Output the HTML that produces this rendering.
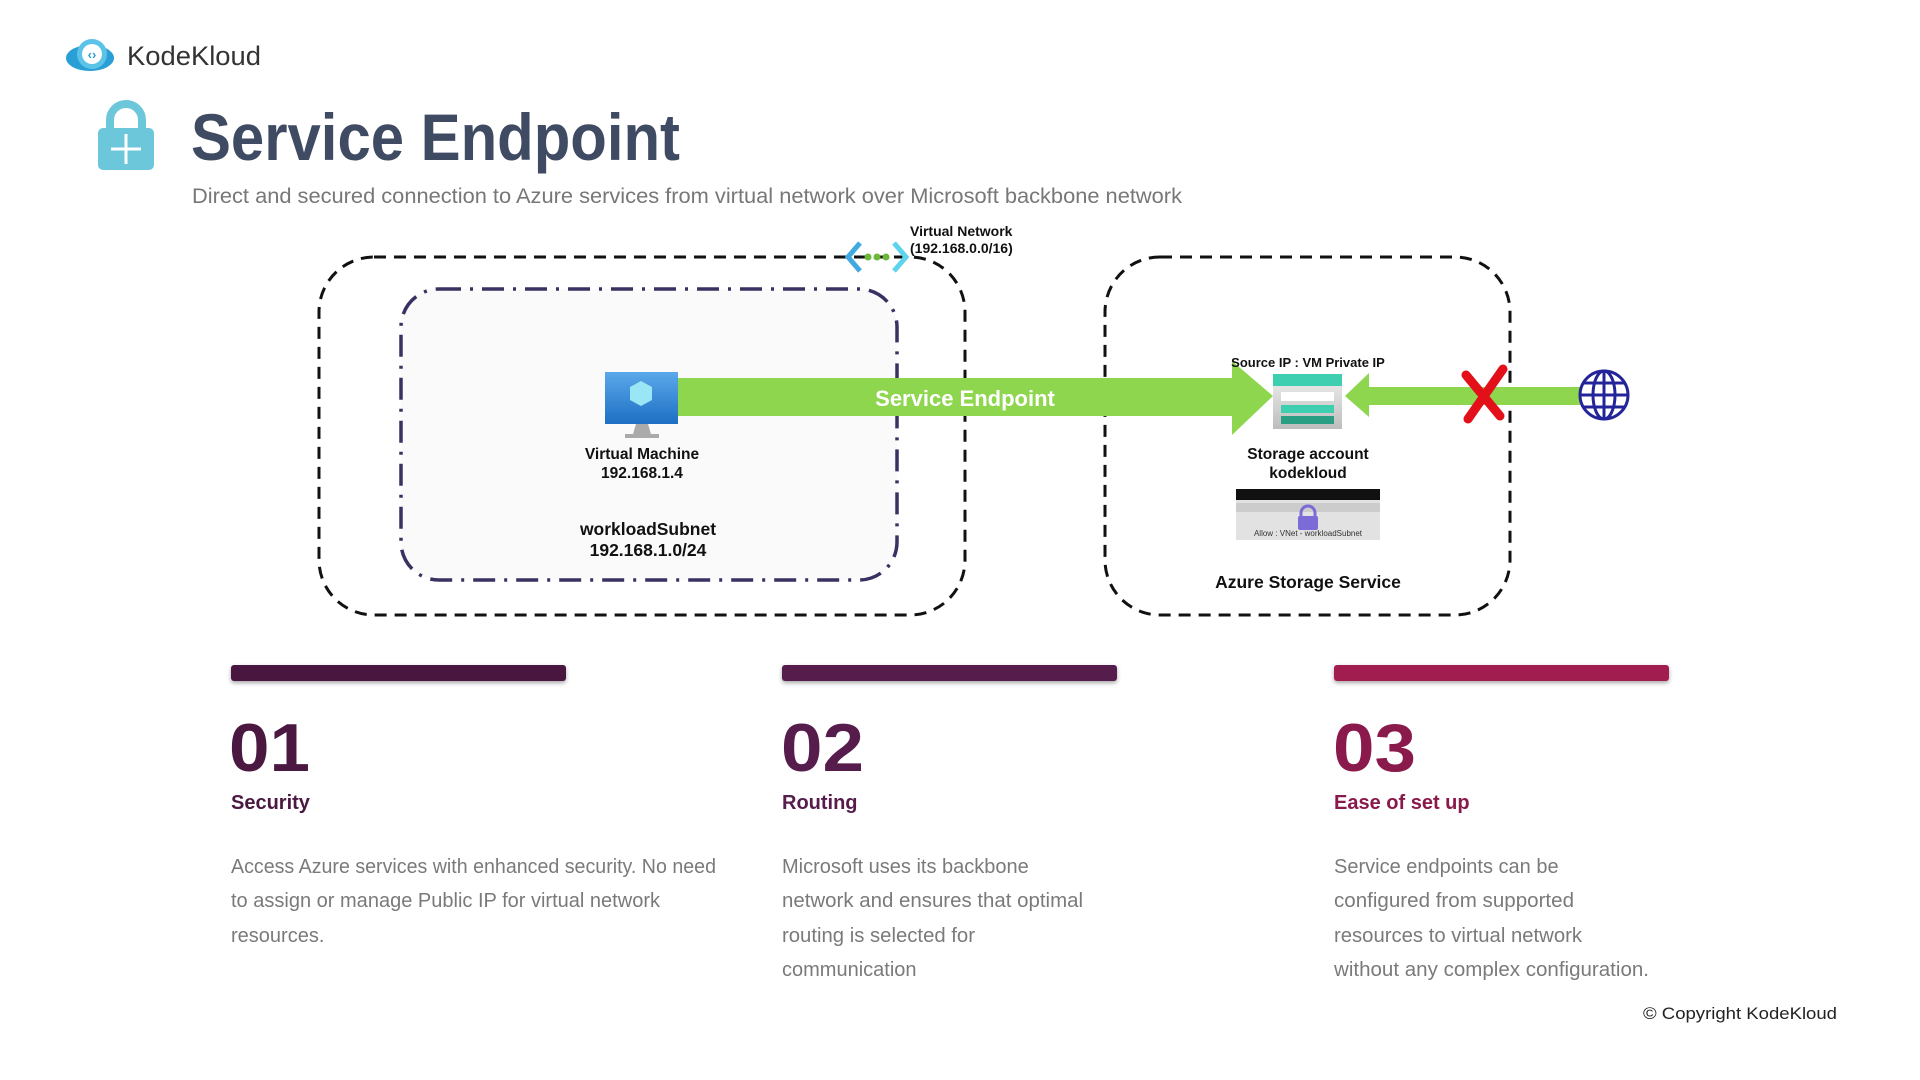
<!DOCTYPE html>
<html><head><meta charset="utf-8"><style>
html,body{margin:0;padding:0;background:#fff;}
svg{display:block;font-family:"Liberation Sans",Arial,sans-serif;}
</style></head><body>
<svg width="1920" height="1080" viewBox="0 0 1920 1080" xmlns="http://www.w3.org/2000/svg">
<rect width="1920" height="1080" fill="#fff"/>
<!-- logo -->
<ellipse cx="90" cy="58" rx="24" ry="13" fill="#2a9fd6"/>
<circle cx="92" cy="54" r="15" fill="#5cc3e8"/>
<circle cx="92" cy="54" r="10" fill="#fff"/>
<text x="92" y="59" font-size="13" fill="#2a9fd6" text-anchor="middle" font-weight="bold">‹›</text>
<text x="127" y="65" font-size="27" fill="#333" textLength="134" lengthAdjust="spacingAndGlyphs">KodeKloud</text>
<!-- lock -->
<path d="M110 132 v-12 a16 16 0 0 1 32 0 v12" fill="none" stroke="#6cc7db" stroke-width="8"/>
<rect x="98" y="128" width="56" height="42" rx="5" fill="#6cc7db"/>
<g stroke="#fff" stroke-width="3" fill="none"><path d="M126 134v30M111 149h30"/></g>
<text x="191" y="160" font-size="66" font-weight="bold" fill="#3f4a63" textLength="489" lengthAdjust="spacingAndGlyphs">Service Endpoint</text>
<text x="192" y="203" font-size="21" fill="#777" textLength="990" lengthAdjust="spacingAndGlyphs">Direct and secured connection to Azure services from virtual network over Microsoft backbone network</text>
<!-- outer vnet box -->
<rect x="319" y="257" width="646" height="358" rx="55" fill="#fff" stroke="#111" stroke-width="3" stroke-dasharray="12 8"/>
<rect x="401" y="289" width="496" height="291" rx="38" fill="#fafafa" stroke="#3a3163" stroke-width="3.5" stroke-dasharray="22 9 3 9"/>
<!-- vnet icon -->
<path d="M860 243 L848 257 L860 271" fill="none" stroke="#3fa9e0" stroke-width="5"/>
<path d="M894 243 L906 257 L894 271" fill="none" stroke="#5ed3ec" stroke-width="5"/>
<circle cx="868" cy="257" r="3.5" fill="#6bb83a"/><circle cx="877" cy="257" r="3.5" fill="#6bb83a"/><circle cx="886" cy="257" r="3.5" fill="#6bb83a"/>
<text x="910" y="236" font-size="14" font-weight="bold" fill="#111">Virtual Network</text>
<text x="910" y="253" font-size="14" font-weight="bold" fill="#111">(192.168.0.0/16)</text>
<!-- right box -->
<rect x="1105" y="257" width="405" height="358" rx="55" fill="#fff" stroke="#111" stroke-width="3" stroke-dasharray="12 8"/>
<!-- green arrow -->
<path d="M678 378 H1232 V361 L1273 396 L1232 435 V416 H678 Z" fill="#8ed64e"/>
<text x="965" y="406" font-size="22" font-weight="bold" fill="#fff" text-anchor="middle">Service Endpoint</text>
<!-- VM icon -->
<defs><linearGradient id="vmg" x1="0" y1="0" x2="0" y2="1"><stop offset="0" stop-color="#5ba8ea"/><stop offset="1" stop-color="#1e6fc4"/></linearGradient>
<linearGradient id="stg" x1="0" y1="0" x2="0" y2="1"><stop offset="0" stop-color="#f0f0f0"/><stop offset="1" stop-color="#bdbdbd"/></linearGradient></defs>
<rect x="605" y="372" width="73" height="52" fill="url(#vmg)"/>
<path d="M641 381 l11 6 v13 l-11 6 l-11 -6 v-13 Z" fill="#9be6f5"/>
<path d="M636 424 h12 l3 10 h8 v4 h-34 v-4 h8 Z" fill="#aaa"/>
<text x="642" y="459" font-size="15.5" font-weight="bold" fill="#111" text-anchor="middle">Virtual Machine</text>
<text x="642" y="478" font-size="15.5" font-weight="bold" fill="#111" text-anchor="middle">192.168.1.4</text>
<text x="648" y="535" font-size="17.5" font-weight="bold" fill="#111" text-anchor="middle">workloadSubnet</text>
<text x="648" y="556" font-size="17.5" font-weight="bold" fill="#111" text-anchor="middle">192.168.1.0/24</text>
<!-- storage -->
<text x="1308" y="367" font-size="13" font-weight="bold" fill="#111" text-anchor="middle">Source IP : VM Private IP</text>
<rect x="1273" y="374" width="69" height="55" fill="url(#stg)"/>
<rect x="1273" y="374" width="69" height="12" fill="#3ecfb0"/>
<rect x="1281" y="392" width="53" height="9" fill="#fff"/>
<rect x="1281" y="405" width="53" height="8" fill="#3ecfb0"/>
<rect x="1281" y="416" width="53" height="8" fill="#2a9e83"/>
<text x="1308" y="459" font-size="15.5" font-weight="bold" fill="#111" text-anchor="middle">Storage account</text>
<text x="1308" y="478" font-size="15.5" font-weight="bold" fill="#111" text-anchor="middle">kodekloud</text>
<rect x="1236" y="489" width="144" height="51" fill="#e2e2e2"/>
<rect x="1236" y="489" width="144" height="11" fill="#111"/>
<rect x="1236" y="503" width="144" height="9" fill="#ccc"/>
<path d="M1301 517 v-4 a7 7 0 0 1 14 0 v4" fill="none" stroke="#7a6bd6" stroke-width="3"/>
<rect x="1298" y="516" width="20" height="14" rx="2" fill="#7a6bd6"/>
<text x="1308" y="536" font-size="8" fill="#333" text-anchor="middle">Allow : VNet - workloadSubnet</text>
<text x="1308" y="588" font-size="17.5" font-weight="bold" fill="#111" text-anchor="middle">Azure Storage Service</text>
<!-- back arrow -->
<path d="M1580 387 H1369 V373 L1345 396 L1369 417 V405 H1580 Z" fill="#8ed64e"/>
<!-- red X -->
<path d="M1466 375 L1500 416 M1503 369 L1468 419" stroke="#e3101a" stroke-width="9" stroke-linecap="round"/>
<!-- globe -->
<g fill="none" stroke="#23239a" stroke-width="3">
<circle cx="1604" cy="395" r="24"/><ellipse cx="1604" cy="395" rx="11" ry="24"/>
<path d="M1604 371v48M1580 395h48M1584 383h40M1584 407h40"/></g>
<!-- bottom columns -->
<defs><filter id="sh" x="-5%" y="-50%" width="110%" height="250%"><feDropShadow dx="0" dy="2" stdDeviation="2" flood-opacity="0.35"/></filter></defs>
<rect x="231" y="665" width="335" height="16" rx="3" fill="#4a1840" filter="url(#sh)"/>
<rect x="782" y="665" width="335" height="16" rx="3" fill="#561c4c" filter="url(#sh)"/>
<rect x="1334" y="665" width="335" height="16" rx="3" fill="#a11c4f" filter="url(#sh)"/>
<text x="229" y="771" font-size="68" font-weight="bold" fill="#4a1840" textLength="81" lengthAdjust="spacingAndGlyphs">01</text>
<text x="781" y="771" font-size="68" font-weight="bold" fill="#561c4c" textLength="83" lengthAdjust="spacingAndGlyphs">02</text>
<text x="1333" y="771" font-size="68" font-weight="bold" fill="#8b1a4c" textLength="83" lengthAdjust="spacingAndGlyphs">03</text>
<text x="231" y="809" font-size="20" font-weight="bold" fill="#4a1840">Security</text>
<text x="782" y="809" font-size="20" font-weight="bold" fill="#561c4c">Routing</text>
<text x="1334" y="809" font-size="20" font-weight="bold" fill="#8b1a4c">Ease of set up</text>
<g font-size="20" fill="#7a7a7a">
<text x="231" y="873" textLength="485" lengthAdjust="spacingAndGlyphs">Access Azure services with enhanced security. No need</text>
<text x="231" y="907" textLength="429" lengthAdjust="spacingAndGlyphs">to assign or manage Public IP for virtual network</text>
<text x="231" y="942">resources.</text>
<text x="782" y="873">Microsoft uses its backbone</text>
<text x="782" y="907" textLength="301" lengthAdjust="spacingAndGlyphs">network and ensures that optimal</text>
<text x="782" y="942" textLength="193" lengthAdjust="spacingAndGlyphs">routing is selected for</text>
<text x="782" y="976">communication</text>
<text x="1334" y="873">Service endpoints can be</text>
<text x="1334" y="907" textLength="240" lengthAdjust="spacingAndGlyphs">configured from supported</text>
<text x="1334" y="942" textLength="248" lengthAdjust="spacingAndGlyphs">resources to virtual network</text>
<text x="1334" y="976" textLength="315" lengthAdjust="spacingAndGlyphs">without any complex configuration.</text>
</g>
<text x="1643" y="1019" font-size="17" fill="#222" textLength="194" lengthAdjust="spacingAndGlyphs">© Copyright KodeKloud</text>
</svg>
</body></html>
